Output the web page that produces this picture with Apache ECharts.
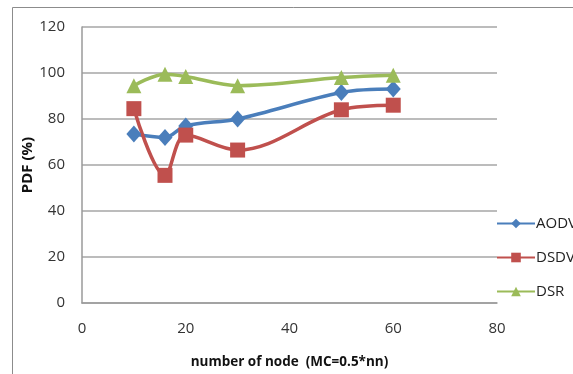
<!DOCTYPE html>
<html>
<head>
<meta charset="utf-8">
<script src="https://cdn.jsdelivr.net/npm/echarts@6/dist/echarts.min.js"></script>
<style>
  html, body { margin: 0; padding: 0; background: #ffffff; }
  #chart { width: 573px; height: 374px; }
</style>
</head>
<body>
<div id="chart"></div>
<script>
// Packet delivery fraction against network size
const nodeCounts = [10, 16, 20, 30, 50, 60];
const aodv = [73.5, 72, 77, 80, 91.5, 93];
const dsdv = [84.5, 55.5, 73, 66.5, 84, 86];
const dsr = [94.5, 99.5, 98.5, 94.5, 98, 99];
const yTicks = [0, 20, 40, 60, 80, 100, 120];
const xTicks = [0, 20, 40, 60, 80];

const pairs = (xs, ys) => xs.map((x, i) => [x, ys[i]]);

const chart = echarts.init(document.getElementById('chart'));
const font = '"Open Sans", "DejaVu Sans", sans-serif';

function lineSeries(name, values, color, symbol, size) {
  return {
    name: name,
    type: 'line',
    data: pairs(nodeCounts, values),
    smooth: 0.35,
    symbol: symbol,
    symbolSize: size,
    lineStyle: { color: color, width: 3.5 },
    itemStyle: { color: color },
    emphasis: { disabled: true }
  };
}

chart.setOption({
  animation: false,
  backgroundColor: '#ffffff',
  graphic: [{
    type: 'rect',
    shape: { x: 12.5, y: 7.5, width: 620, height: 420 },
    style: { fill: 'none', stroke: '#8c8c8c', lineWidth: 1 },
    silent: true
  }],
  grid: { left: 82, top: 27, width: 415, height: 277, containLabel: false },
  xAxis: {
    type: 'value',
    min: xTicks[0],
    max: xTicks[xTicks.length - 1],
    interval: 20,
    name: 'number of node  (MC=0.5*nn)',
    nameLocation: 'middle',
    nameGap: 52,
    nameMoveOverlap: false,
    nameTextStyle: { fontFamily: font, fontSize: 13.5, fontWeight: 'bold', color: '#111' },
    axisLine: { show: true, lineStyle: { color: '#9a9a9a', width: 1.5 } },
    axisTick: { show: false },
    splitLine: { show: false },
    axisLabel: { fontFamily: font, fontSize: 15, color: '#333', margin: 18 }
  },
  yAxis: {
    type: 'value',
    min: yTicks[0],
    max: yTicks[yTicks.length - 1],
    interval: 20,
    name: 'PDF (%)',
    nameLocation: 'middle',
    nameGap: 47,
    nameMoveOverlap: false,
    nameRotate: 90,
    nameTextStyle: { fontFamily: font, fontSize: 15, fontWeight: 'bold', color: '#111' },
    axisLine: { show: true, lineStyle: { color: '#9a9a9a', width: 1.5 } },
    axisTick: { show: false },
    splitLine: { show: true, lineStyle: { color: '#a6a6a6', width: 1.5 } },
    axisLabel: { fontFamily: font, fontSize: 15, color: '#333', margin: 17 }
  },
  legend: {
    orient: 'vertical',
    left: 491,
    top: 211,
    itemWidth: 38,
    itemHeight: 12,
    itemGap: 19,
    textStyle: { fontFamily: font, fontSize: 15, color: '#222', padding: [0, 0, 0, -4] },
    data: ['AODV', 'DSDV', 'DSR']
  },
  series: [
    lineSeries('AODV', aodv, '#4a7ebb', 'diamond', [15, 17]),
    lineSeries('DSDV', dsdv, '#c0504d', 'rect', 15),
    lineSeries('DSR', dsr, '#9bbb59', 'triangle', 15)
  ]
});
</script>
</body>
</html>
